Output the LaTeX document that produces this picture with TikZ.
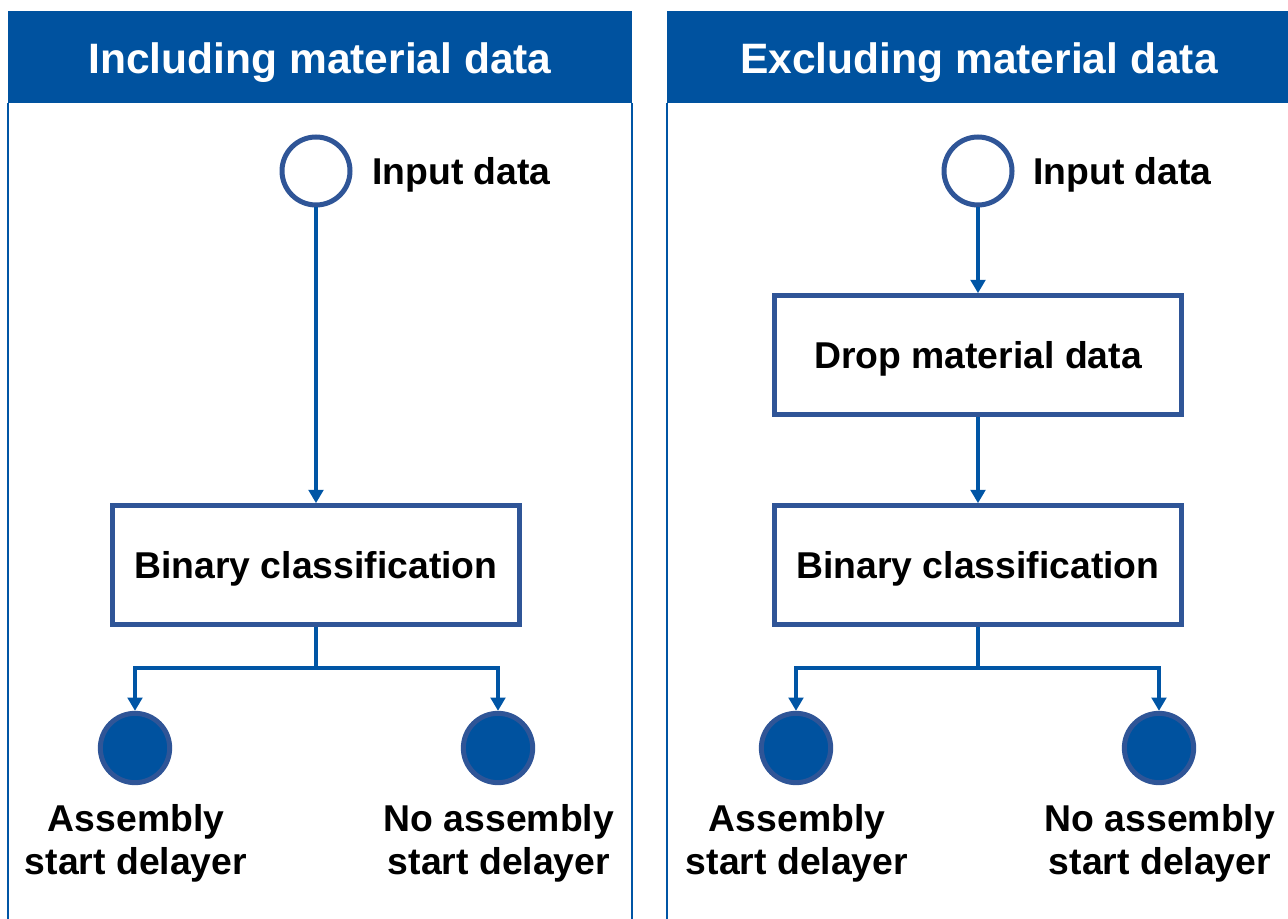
\documentclass[tikz,border=0pt]{standalone}
\usepackage{fontspec}
\setmainfont{Liberation Sans}
\usetikzlibrary{arrows.meta}
\definecolor{hdrblue}{HTML}{00529F}
\definecolor{nodeblue}{HTML}{2F5597}
\definecolor{arrblue}{HTML}{0055A5}
\begin{document}
\begin{tikzpicture}[x=0.75pt,y=-0.75pt,
  panel/.style={draw=arrblue,line width=1.5pt},
  header/.style={fill=hdrblue,draw=none},
  hdrtext/.style={text=white,font=\fontsize{31.9}{36}\selectfont\bfseries},
  startnode/.style={circle,draw=nodeblue,line width=3.75pt,fill=white,minimum size=51pt,inner sep=0pt},
  endnode/.style={circle,draw=nodeblue,line width=3.75pt,fill=hdrblue,minimum size=52pt,inner sep=0pt},
  stepbox/.style={rectangle,draw=nodeblue,line width=3.75pt,fill=white,minimum width=305pt,minimum height=89pt,inner sep=0pt,text height=20pt,text depth=0pt,font=\fontsize{28}{34}\selectfont\bfseries},
  lbl/.style={font=\fontsize{28}{32.25}\selectfont\bfseries,inner sep=0pt},
  arr/.style={draw=arrblue,line width=2.4pt,-{Triangle[width=11pt,length=10pt]}},
  ln/.style={draw=arrblue,line width=2.4pt}]
\useasboundingbox (0,0) rectangle (1288,919);
% panels
\draw[panel] (8,103) -- (8,960);
\draw[panel] (632,103) -- (632,960);
\draw[panel] (667,103) -- (667,960);
\fill[header] (8,11) rectangle (632,103);
\fill[header] (667,11) rectangle (1320,103);
\node[hdrtext] (h1) at (320,63) {Including material data};
\node[hdrtext] (h2) at (979,63) {Excluding material data};
% left flow
\node[startnode] (in1) at (316,171) {};
\node[lbl,anchor=west] (in1l) at (372,175) {Input data};
\node[stepbox] (bc1) at (316,565) {Binary classification};
\node[endnode] (a1) at (135,748) {};
\node[endnode] (n1) at (498,748) {};
\coordinate (s1) at (316,668);
\draw[arr] (in1.south) -- (bc1.north);
\draw[ln] (bc1.south) -- (s1);
\draw[arr] (s1) -| (a1.north);
\draw[arr] (s1) -| (n1.north);
\node[lbl,align=center] (a1l) at (136,843) {Assembly\\start delayer};
\node[lbl,align=center] (n1l) at (499,843) {No assembly\\start delayer};
% right flow
\node[startnode] (in2) at (978,171) {};
\node[lbl,anchor=west] (in2l) at (1033,175) {Input data};
\node[stepbox] (dm2) at (978,355) {Drop material data};
\node[stepbox] (bc2) at (978,565) {Binary classification};
\node[endnode] (a2) at (796,748) {};
\node[endnode] (n2) at (1159,748) {};
\coordinate (s2) at (978,668);
\draw[arr] (in2.south) -- (dm2.north);
\draw[arr] (dm2.south) -- (bc2.north);
\draw[ln] (bc2.south) -- (s2);
\draw[arr] (s2) -| (a2.north);
\draw[arr] (s2) -| (n2.north);
\node[lbl,align=center] (a2l) at (797,843) {Assembly\\start delayer};
\node[lbl,align=center] (n2l) at (1160,843) {No assembly\\start delayer};
\end{tikzpicture}
\end{document}
